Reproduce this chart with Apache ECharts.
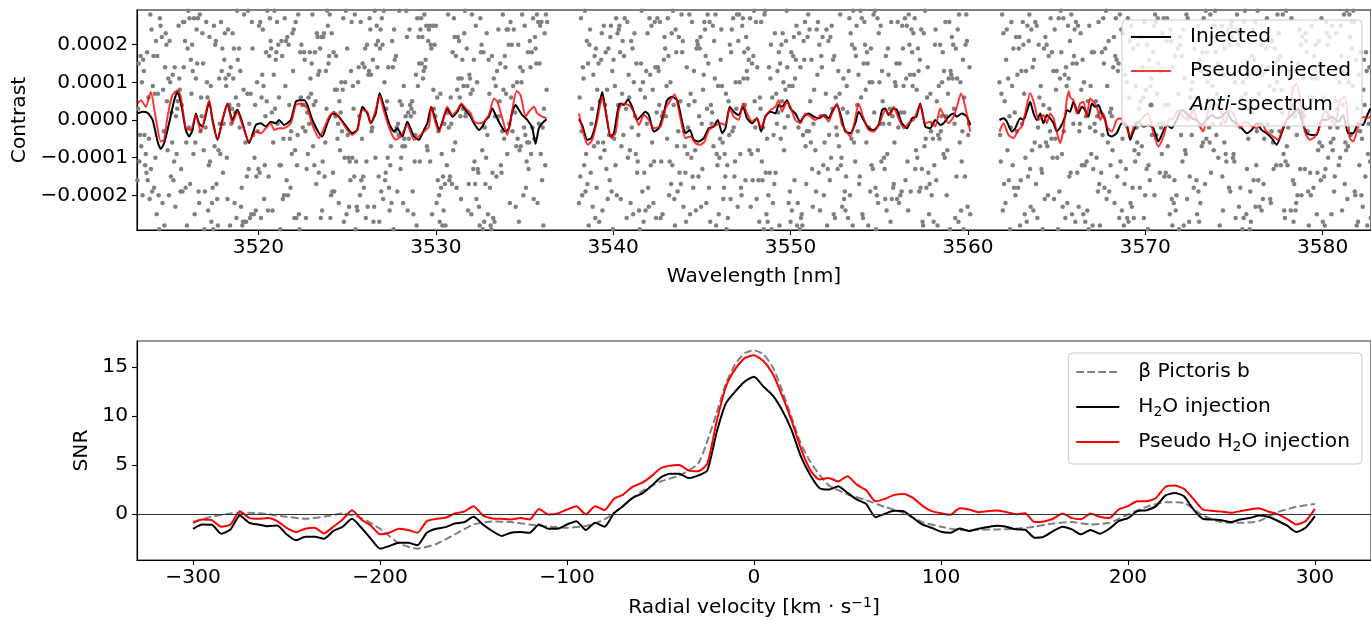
<!DOCTYPE html>
<html><head><meta charset="utf-8">
<script src="https://cdn.jsdelivr.net/npm/echarts@6.0.0/dist/echarts.min.js"></script>
<style>html,body{margin:0;padding:0;background:#fff}#c{width:1371px;height:621px}</style>
</head><body><div id="c"></div>
<script>
// ---------- Top panel: contrast (units of 1e-5) ----------
const contrastUnit = 1e-5;
const wavelengthTicks = [3520, 3530, 3540, 3550, 3560, 3570, 3580];
const contrastTicks = [-0.0002, -0.0001, 0, 0.0001, 0.0002];

const injectedSeg1 = [[3513.18,1.75],[3513.46,2.19],[3513.74,1.93],[3514.03,0],[3514.31,-5.7],[3514.49,-7.72],[3514.68,-6.14],[3514.96,-0.88],[3515.25,5.26],[3515.43,7.46],[3515.62,4.82],[3515.9,-2.63],[3516.09,-4.39],[3516.28,-2.63],[3516.47,1.75],[3516.65,-0.88],[3516.84,-1.75],[3517.22,4.82],[3517.41,0],[3517.69,-5.26],[3517.97,0],[3518.25,4.39],[3518.53,0],[3518.81,2.81],[3519.1,-0.88],[3519.47,-6.14],[3519.85,-1.32],[3520.13,-0.88],[3520.41,-1.75],[3520.69,-0.44],[3520.97,-0.88],[3521.16,0],[3521.44,-1.32],[3521.82,0],[3522.1,4.82],[3522.29,5.26],[3522.57,5.26],[3522.76,3.95],[3523.04,0],[3523.41,-3.51],[3523.6,-4.39],[3523.88,-0.88],[3524.17,1.75],[3524.45,1.32],[3524.82,-0.88],[3525.29,-3.51],[3525.57,-2.63],[3525.86,3.51],[3526.14,1.75],[3526.33,-0.88],[3526.61,1.75],[3526.83,7.19],[3527.08,3.51],[3527.36,-0.88],[3527.64,-3.07],[3527.83,-2.19],[3528.11,-4.39],[3528.39,-0.44],[3528.77,-4.39],[3529.05,-5.26],[3529.33,-2.63],[3529.52,-0.88],[3529.74,3.51],[3529.99,0],[3530.18,-2.63],[3530.46,0.88],[3530.64,3.07],[3530.93,0.88],[3531.21,2.19],[3531.44,4.12],[3531.68,2.63],[3531.96,0.88],[3532.15,-0.88],[3532.43,-2.63],[3532.62,-1.75],[3532.81,0],[3532.99,0.88],[3533.18,3.07],[3533.37,1.32],[3533.65,-1.32],[3533.93,-3.07],[3534.12,-2.19],[3534.31,2.19],[3534.5,3.95],[3534.69,2.63],[3534.87,1.32],[3535.16,0],[3535.44,-2.19],[3535.62,-6.33],[3535.81,-2.19],[3536.0,-0.88],[3536.24,0.18]];
const injectedSeg2 = [[3538.07,0.18],[3538.25,-1.32],[3538.54,-5.26],[3538.76,-4.82],[3539.0,-1.32],[3539.19,3.51],[3539.38,7.46],[3539.57,2.63],[3539.85,-4.39],[3540.04,-3.51],[3540.26,2.63],[3540.41,4.39],[3540.6,3.95],[3540.83,5.44],[3541.07,3.51],[3541.35,0],[3541.54,0.88],[3541.82,2.19],[3542.01,1.32],[3542.29,-3.07],[3542.57,-2.19],[3542.85,1.75],[3543.04,5.26],[3543.32,6.14],[3543.61,5.26],[3543.89,-0.44],[3544.08,-3.51],[3544.32,-2.63],[3544.55,-5.26],[3544.83,-5.7],[3545.11,-4.82],[3545.39,-2.19],[3545.67,-1.75],[3545.9,0],[3546.14,-3.51],[3546.33,-2.19],[3546.57,3.51],[3546.8,2.19],[3547.08,1.32],[3547.32,3.51],[3547.55,0.44],[3547.83,-0.88],[3548.11,0.44],[3548.34,-3.07],[3548.58,0.88],[3548.86,2.19],[3549.15,1.75],[3549.33,3.95],[3549.52,3.51],[3549.8,5.26],[3549.99,3.07],[3550.27,1.75],[3550.55,-0.44],[3550.74,0.88],[3551.02,1.75],[3551.31,0.88],[3551.59,0.44],[3551.87,1.32],[3552.15,0.44],[3552.34,2.19],[3552.62,3.95],[3552.9,0],[3553.09,-3.07],[3553.37,-3.51],[3553.65,-0.88],[3553.84,2.19],[3554.12,0],[3554.4,-2.19],[3554.69,-2.63],[3554.97,-1.32],[3555.16,2.63],[3555.34,3.07],[3555.53,1.32],[3555.81,3.07],[3556.0,2.63],[3556.28,-0.88],[3556.56,-2.19],[3556.85,0.44],[3557.09,0.88],[3557.31,4.39],[3557.6,-1.75],[3557.88,-2.19],[3558.16,0],[3558.44,-1.32],[3558.63,-0.88],[3558.91,0.88],[3559.19,1.75],[3559.38,0.88],[3559.66,1.75],[3559.94,0.88],[3560.13,-1.32]];
const injectedSeg3 = [[3561.78,0],[3562.01,0.44],[3562.2,-0.44],[3562.48,-3.07],[3562.67,-2.19],[3562.95,0.44],[3563.14,0],[3563.32,2.19],[3563.51,4.82],[3563.7,1.75],[3563.89,0],[3564.08,1.75],[3564.26,-0.88],[3564.45,1.32],[3564.64,0.44],[3564.83,-0.88],[3565.01,-3.07],[3565.24,-1.75],[3565.48,0.88],[3565.58,2.63],[3565.76,2.19],[3565.95,4.82],[3566.23,1.75],[3566.42,3.51],[3566.61,2.63],[3566.8,0.88],[3566.99,4.39],[3567.17,3.51],[3567.36,3.95],[3567.55,1.75],[3567.74,0],[3567.92,-3.95],[3568.11,-4.39],[3568.39,-3.51],[3568.68,-0.88],[3568.96,-1.32],[3569.15,-5.26],[3569.33,-3.07],[3569.61,-0.44],[3569.9,-1.75],[3570.18,-1.32],[3570.46,-2.19],[3570.74,-5.7],[3570.93,-3.95],[3571.21,-1.32],[3571.49,-2.19],[3571.77,0],[3572.06,2.63],[3572.34,1.75],[3572.62,0.44],[3572.9,0],[3573.18,-1.32],[3573.46,0],[3573.75,1.32],[3574.03,0.44],[3574.31,0.88],[3574.59,2.19],[3574.87,0],[3575.15,-0.88],[3575.44,-2.19],[3575.72,-3.51],[3576.0,-2.63],[3576.28,-0.88],[3576.56,-2.63],[3576.84,-3.51],[3577.13,-4.82],[3577.41,-6.58],[3577.69,-3.51],[3577.97,0],[3578.35,1.75],[3578.63,3.07],[3578.82,0],[3579.1,-3.51],[3579.38,-3.95],[3579.66,-3.95],[3579.94,0],[3580.22,0],[3580.51,0.88],[3580.88,-0.44],[3581.16,1.32],[3581.45,-3.51],[3581.73,-3.51],[3582.01,-0.88],[3582.29,-1.32],[3582.48,0.88],[3582.7,3.07]];

const pseudoSeg1 = [[3513.18,4.39],[3513.37,5.26],[3513.65,3.51],[3513.93,7.46],[3514.21,0.44],[3514.49,-5.7],[3514.68,-5.26],[3514.87,0.88],[3515.15,6.58],[3515.43,7.89],[3515.62,6.14],[3515.9,-2.19],[3516.18,-2.63],[3516.47,1.32],[3516.75,-3.07],[3517.22,5.26],[3517.41,-0.44],[3517.69,-5.26],[3517.97,0],[3518.25,4.39],[3518.53,-0.88],[3518.81,2.19],[3519.1,-1.32],[3519.47,-5.7],[3519.85,-3.07],[3520.13,-3.51],[3520.41,-2.19],[3520.69,-0.88],[3520.88,-2.63],[3521.16,-2.19],[3521.44,-2.19],[3521.82,-0.88],[3522.1,3.95],[3522.38,4.39],[3522.57,3.95],[3522.76,3.07],[3523.04,-1.32],[3523.41,-4.82],[3523.7,-2.19],[3523.98,0.88],[3524.26,2.19],[3524.64,0],[3525.01,-2.63],[3525.29,-3.95],[3525.57,-2.63],[3525.86,2.63],[3526.14,2.19],[3526.33,-0.88],[3526.61,2.63],[3526.83,6.58],[3527.08,2.19],[3527.45,-3.07],[3527.74,-5.26],[3528.02,-4.39],[3528.39,-1.32],[3528.77,-5.26],[3529.05,-4.39],[3529.33,-3.07],[3529.61,-1.75],[3529.74,3.51],[3529.99,-0.88],[3530.18,-3.07],[3530.46,0.88],[3530.64,3.51],[3530.93,1.32],[3531.21,2.63],[3531.44,4.39],[3531.68,3.07],[3531.96,1.75],[3532.15,-0.44],[3532.43,-0.88],[3532.71,-0.44],[3532.99,1.32],[3533.28,5.7],[3533.47,4.82],[3533.75,0.44],[3534.03,-3.95],[3534.31,2.63],[3534.55,7.72],[3534.78,6.58],[3535.06,0.88],[3535.25,2.19],[3535.53,3.51],[3535.72,1.75],[3536.0,0.88],[3536.24,0.44]];
const pseudoSeg2 = [[3538.07,1.75],[3538.35,-3.95],[3538.57,-6.58],[3538.82,-5.26],[3539.1,0],[3539.38,6.14],[3539.66,0],[3539.89,-4.82],[3540.13,-3.51],[3540.32,2.63],[3540.51,4.39],[3540.88,3.95],[3541.16,2.19],[3541.45,-1.32],[3541.73,1.32],[3542.01,0],[3542.29,-2.19],[3542.67,-1.75],[3542.95,3.07],[3543.23,5.26],[3543.47,6.84],[3543.7,2.63],[3543.89,-1.75],[3544.08,-4.82],[3544.36,-4.39],[3544.64,-6.14],[3544.92,-6.58],[3545.15,-5.7],[3545.39,-2.63],[3545.67,-1.75],[3546.05,-0.88],[3546.33,-1.32],[3546.57,3.07],[3546.8,0.88],[3547.08,0],[3547.32,4.39],[3547.55,1.75],[3547.83,-0.44],[3548.11,0.44],[3548.34,-2.19],[3548.58,0.88],[3548.86,2.63],[3549.15,3.51],[3549.33,5.26],[3549.52,2.19],[3549.8,4.82],[3549.99,3.51],[3550.27,0],[3550.55,-0.88],[3550.84,1.75],[3551.12,0.88],[3551.4,0],[3551.68,0.88],[3551.87,1.32],[3552.15,-0.44],[3552.34,1.75],[3552.62,4.39],[3552.9,-1.32],[3553.09,-2.63],[3553.37,-4.39],[3553.56,-1.75],[3553.84,4.39],[3554.12,0.44],[3554.4,-2.63],[3554.69,-3.07],[3554.97,-1.32],[3555.16,0.88],[3555.34,2.63],[3555.62,1.32],[3555.81,3.51],[3556.09,0.44],[3556.38,-2.19],[3556.66,-0.88],[3556.94,0],[3557.31,3.95],[3557.6,-0.88],[3557.88,-0.44],[3558.16,-1.75],[3558.44,3.07],[3558.63,1.32],[3558.91,-0.88],[3559.19,0.88],[3559.38,3.51],[3559.61,7.02],[3559.85,3.51],[3560.13,-3.07]];
const pseudoSeg3 = [[3561.78,-3.07],[3562.01,-0.88],[3562.29,-3.95],[3562.57,-4.82],[3562.85,-2.63],[3563.04,-1.75],[3563.23,1.75],[3563.51,7.19],[3563.74,4.39],[3563.98,0],[3564.26,1.32],[3564.45,-0.88],[3564.64,1.75],[3564.83,0.44],[3565.01,-3.07],[3565.2,-6.14],[3565.39,-2.5],[3565.58,5.5],[3565.7,7.6],[3565.76,6.14],[3565.95,5.26],[3566.14,1.75],[3566.33,4.39],[3566.52,4.82],[3566.7,0.88],[3566.89,5.7],[3567.08,4.82],[3567.27,3.51],[3567.46,0],[3567.64,1.75],[3567.83,-1.75],[3568.11,-3.07],[3568.39,0],[3568.58,0.44],[3568.86,-0.88],[3569.15,-4.39],[3569.43,-0.88],[3569.67,-0.44],[3569.9,0.88],[3570.18,1.75],[3570.46,-3.51],[3570.74,-7.02],[3571.02,-4.39],[3571.31,0],[3571.59,0.44],[3571.87,2.63],[3572.15,0.88],[3572.43,0],[3572.71,2.63],[3572.99,-0.88],[3573.28,-3.07],[3573.46,0.88],[3573.65,3.51],[3573.93,4.39],[3574.22,2.63],[3574.5,-0.88],[3574.78,2.63],[3575.06,0.88],[3575.34,-2.19],[3575.62,-0.44],[3575.91,-1.32],[3576.28,-2.19],[3576.56,-0.88],[3576.84,-3.07],[3577.22,-4.39],[3577.5,-5.26],[3577.78,-1.75],[3578.06,0.88],[3578.35,8.77],[3578.53,9.65],[3578.72,6.14],[3579.0,-3.07],[3579.29,-5.26],[3579.57,-4.39],[3579.85,-1.75],[3580.13,2.63],[3580.41,0.88],[3580.69,-1.32],[3580.98,5.26],[3581.26,6.14],[3581.54,-4.82],[3581.73,-5.7],[3582.01,-1.75],[3582.29,0.88],[3582.48,0.44],[3582.7,0.88]];

// Anti-spectrum samples (units of 1e-5), each segment sampled evenly across its wavelength range
const antiRange1 = [3513.10, 3536.28];
const antiRange2 = [3538.07, 3560.13];
const antiRange3 = [3561.78, 3582.75];
const anti1 = [12,-27,-16,3,15,-11,-4,17,-7,10,-20,16,13,-4,-12,-9,-14,18,-16,6,-5,-21,28,-13,24,-19,9,17,-18,7,-10,21,
-25,17,7,-20,-29,27,25,-30,22,-22,8,-3,-28,14,23,20,5,-8,11,-20,21,10,-15,2,-6,12,-16,-11,14,-23,1,-9,
3,5,25,11,8,-19,-13,4,-19,26,14,26,21,-18,-6,-28,19,29,-2,27,-17,16,7,20,13,-9,27,-25,-6,11,24,15,
27,-19,-22,28,-3,6,1,23,15,-8,-29,-19,-2,26,10,6,-24,-12,22,-11,9,-27,-22,-18,-29,25,-7,20,21,-17,-21,-28,
-8,11,-1,-9,26,13,19,-14,-1,16,23,11,9,-10,-21,24,12,4,-28,14,-1,3,23,11,19,-22,2,6,-26,29,16,4,
19,-2,13,-23,-18,-28,-27,8,28,-27,-6,-27,-15,7,29,-13,-1,-26,7,-25,26,19,-4,-25,-10,4,-24,-15,10,-3,-13,25,
-14,26,-26,6,12,24,9,-21,-12,1,18,5,29,-24,-15,17,27,21,19,2,-24,-6,12,29,3,16,18,26,-1,20,6,-12,
-29,-12,21,17,-21,-5,-20,27,9,21,-16,22,-20,20,4,-5,-18,-3,-9,23,13,24,-26,-8,26,-26,-12,-4,28,-25,-29,18,
6,20,4,-2,4,18,16,-3,-26,-13,2,-9,6,-1,18,11,7,15,28,-7,4,-12,18,5,-17,23,22,12,-14,13,19,-26,
22,-24,-11,22,23,-15,-6,13,3,29,25,15,17,28,-26,-20,23,-19,-14,18,-19,8,1,17,8,-5,-1,-22,5,-8,2,10,
-3,8,27,-27,-10,10,29,-25,19,-4,-10,-23,-11,-16,13,26,-10,9,3,-15,28,-29,-11,-23,-24,10,14,1,-20,26,-16,-5,
15,-15,-18,14,19,-26,-11,20,-23,12,13,27,24,12,-3,-2,16,-27,-23,29,-10,20,25,14,21,-15,-27,19,24,-19,27,20,
-21,29,10,-16,-14,3,5,-10,14,-18,-24,-12,-7,-22,21,14,-29,24,16,-3,17,-2,-19,-1,-4,29,5,-13,-10,4,-7,-22,
9,-5,-7,1,29,22,-24,2,-5,24,4,1,3,5,-19,-25,2,-11,-4,12,-28,27,9,22,15,-11,24,27,15,22,11,13,
28,14,16,25,-7,-8,21,24,25,-11,20,19,-25,25,8,3,20,1,25,-22,6,-16,-3,-20,-27,7,-18,-9,-28,-15,-24,-1,
-17,-28,-30,-12,2,28,-2,-16,-15,6,-1,-17,18,-8,27,22,-6,17,-18,8,22,11,21,6,1,-21,11,16,3,9,23,29,
1,2,19,9,-24,-17,12,11,7,-25,28,8,-13,16,-11,-17,25,-21,10,-13,-14,-23,-28,27,18,20,-8,-29,18,-27,-2,-17,
-10,23,-4,-25,16,7,-18,-28,-29,17,-14,-26,11,-27,1,9,-15,13,-30,24,1,5,15,-12,-14,-3,28,8,-5,17,14,7,
24,-9,24,20,-1,-22,26,6,20,-3,9,24,-30,2,-23,-7,10,-5,20,-27,-8,14,-7,10,28,13,-20,-2,25,-4,-18,-11,
-6,18,-13,-6,21,14,-9,18,-2,27,-21,-5,22,19,15,28,-22,26,-1,15,25,-9,26,-16,-2,-28,3,23,-12,28,8,26];
const anti2 = [-22,6,-15,27,-3,-20,14,11,-12,29,-19,-9,21,-17,15,-28,20,24,-14,-1,3,-23,12,-7,17,-26,19,-18,8,-6,
15,-27,5,-10,16,23,-24,-6,25,-8,4,18,-13,8,-21,19,-4,-16,22,25,-19,13,-29,16,-5,9,-12,27,-20,23,
4,24,25,18,-21,-7,7,21,-4,17,27,-30,3,-26,26,-10,12,6,-8,-22,21,-2,19,-25,10,23,1,-9,15,-14,
-11,-4,-24,-29,8,15,29,-19,10,-27,-14,6,-24,13,-1,23,-18,-23,27,12,-12,25,-6,8,-22,-11,26,14,-26,2,
27,14,13,4,26,-26,-11,1,-25,2,16,22,19,1,9,-5,27,17,-20,-11,10,-17,23,-12,29,4,-21,-28,24,18,
-7,-19,-3,22,-14,5,-17,28,18,21,-23,-3,-7,-14,-27,14,-9,-2,4,28,-25,7,-10,26,-15,-18,13,5,-8,-24,
19,21,20,-15,1,19,22,-23,-1,-13,8,12,26,24,17,-22,3,28,15,-18,26,-27,4,-1,2,25,-7,21,11,28,
-28,-9,-12,9,-25,-10,-5,16,24,9,-6,-21,-18,-9,-15,7,-29,-12,-26,5,-4,20,-21,18,24,-3,27,-2,-15,-11,
10,3,28,-23,21,28,10,-9,-18,-20,25,27,11,18,4,-16,22,13,11,19,16,-8,27,-23,-9,15,-16,17,29,5,
-2,26,-21,14,-8,-16,-27,6,3,26,-11,-16,-2,-29,28,29,-14,-25,-5,-27,-20,14,-14,11,20,-29,6,-22,-4,-17,
23,-14,7,-1,13,2,18,-28,15,-5,20,5,23,10,-8,-2,8,21,29,14,1,-22,9,-19,-27,18,-24,9,17,22,
-16,11,16,25,-28,-22,-2,23,-29,14,-26,-25,-28,-4,21,16,26,-7,-17,-3,22,28,-3,24,5,-6,16,-13,-23,-1,
8,-30,-8,-19,24,12,26,-14,20,-24,1,17,14,22,-12,-20,-6,1,7,24,-28,-13,21,-4,-16,22,-10,25,3,16,
-25,17,-26,6,-2,-4,-13,13,-7,7,28,-12,-10,-23,3,11,-21,-19,-24,-15,9,2,-26,13,27,-20,23,-5,20,-28,
29,-6,19,-11,17,25,4,-3,12,-17,-15,29,6,27,-25,-26,15,26,20,8,-6,18,15,-28,-2,10,-19,19,-12,10,
-13,28,2,29,-18,-29,-20,27,-22,23,10,-1,25,-11,13,5,-1,-10,-13,-21,17,-24,-9,19,12,-1,3,-27,26,-21,
1,-18,-17,-6,10,9,15,-21,26,-2,-22,15,-20,2,-19,25,19,9,2,27,-16,11,25,-11,-24,28,20,12,-19,24,
18,9,23,12,27,-13,-8,8,-10,19,13,-19,16,-18,24,-13,-27,-28,23,-7,29,-5,-18,6,14,-14,-25,-17,7,-3,
-20,-1,-5,-27,-12,20,24,-16,5,-28,-4,9,-5,20,-3,1,10,18,-9,13,-10,26,1,-20,-8,7,11,26,-29,13,
12,22,11,20,3,-1,-26,19,-15,11,24,-27,28,-6,10,-24,-11,-3,16,-29,6,-15,20,28,21,-23,-4,-1,14,-25];
const anti3 = [10,-4,-11,7,28,-24,23,-17,5,-22,16,24,-8,11,-16,1,-29,-2,26,9,-12,19,-18,2,-20,22,-3,12,
-18,19,22,-28,-16,13,-1,26,20,7,-25,-10,13,-27,25,-15,21,28,-13,-23,24,-8,14,-24,16,-6,26,-17,
25,-26,-2,20,6,-7,9,-13,-14,-29,4,19,-21,22,-6,20,-7,-20,17,3,-3,27,-5,18,-10,13,-21,24,
-5,8,13,-10,-29,27,-19,11,29,18,-9,-23,27,-3,12,-26,14,9,-22,25,11,-15,21,-14,28,-25,15,-1,
17,24,-27,26,15,-14,25,-23,-3,-1,23,8,-12,16,-25,10,-12,-27,1,-11,-24,5,-29,25,-2,9,-9,18,
-28,-13,18,-1,-3,5,-10,1,-19,26,-17,-28,2,-14,18,-4,27,15,-18,19,29,-21,9,-6,21,-19,2,-12,
3,1,-8,14,22,-22,17,27,16,-15,13,15,-26,28,-11,24,-24,-5,23,-28,-17,12,-13,10,-26,27,-27,6,
21,-22,25,-23,-18,19,-26,-8,-11,9,-2,-6,20,-9,3,-18,5,22,-7,14,6,-26,26,-20,8,-13,20,-29,
-12,16,-16,9,11,-4,4,18,25,-20,28,26,-4,7,27,15,-1,-14,13,-2,-9,23,-1,27,-15,4,-14,21,
27,-7,4,-15,-25,24,21,-21,-28,14,-22,-16,17,-24,-20,-30,19,7,-29,22,20,-4,17,-11,24,-28,11,-8,
-9,28,-21,27,1,-27,-15,6,8,-4,10,3,-18,19,14,6,-16,-25,25,-19,-27,16,-22,13,-7,18,-6,27,
14,-17,29,-5,18,10,12,-2,-6,28,-14,22,9,-1,-8,25,29,18,-4,7,15,-10,3,-28,12,-1,25,-15,
-24,12,-6,19,-9,-11,-30,24,23,-18,20,-19,25,26,22,-10,-9,-11,10,-26,-1,28,24,20,-23,23,-18,3,
6,-29,10,-26,26,29,7,-25,-13,3,-5,12,-29,-19,-27,17,2,24,-16,16,26,-23,-12,-3,29,-16,7,-23,
-1,20,-24,12,-21,-17,-5,13,19,21,27,-1,14,5,9,-21,-22,-3,21,-6,-13,8,19,15,-12,10,28,16,
23,-3,17,-12,8,2,28,-9,-24,-26,-11,29,-7,-12,-2,11,13,12,-24,27,4,-16,-27,-17,1,-24,-22,-4,
-20,15,2,24,-13,20,-20,22,2,11,1,-13,23,21,18,-3,-19,-28,6,-14,-20,25,11,6,-18,17,14,20,
11,-25,-14,-8,21,-6,15,-16,27,-7,-27,6,-15,-28,-13,26,23,20,-10,1,22,-2,-6,-25,25,-8,-5,-19,
-15,5,23,3,-2,14,-12,10,-10,25,17,-24,4,13,28,-17,-6,-8,29,-21,-7,10,28,22,-4,26,19,9,
29,26,-19,-20,16,-28,3,-27,12,-12,-3,18,-20,-5,-23,8,16,4,-15,18,13,-28,-9,-1,14,-11,-26,25];

// ---------- Bottom panel: SNR vs radial velocity ----------
const rvTicks = [-300, -200, -100, 0, 100, 200, 300];
const snrTicks = [0, 5, 10, 15];
const rv = [-300,-295,-290,-285,-280,-275,-270,-265,-260,-255,-250,-245,-240,-235,-230,-225,-220,-215,-210,-205,-200,-195,-190,-185,-180,-175,-170,-165,-160,-155,-150,-145,-140,-135,-130,-125,-120,-115,-110,-105,-100,-95,-90,-85,-80,-75,-70,-65,-60,-55,-50,-45,-40,-35,-30,-25,-20,-15,-10,-5,0,5,10,15,20,25,30,35,40,45,50,55,60,65,70,75,80,85,90,95,100,105,110,115,120,125,130,135,140,145,150,155,160,165,170,175,180,185,190,195,200,205,210,215,220,225,230,235,240,245,250,255,260,265,270,275,280,285,290,295,300];
const snrInjection = [-1.53,-1.09,-1.12,-2.04,-1.6,-0.17,-0.92,-1.09,-1.26,-1.19,-2.1,-2.71,-2.34,-2.34,-2.54,-1.76,-1.32,-0.51,-1.43,-2.54,-3.56,-3.29,-2.95,-2.95,-3.22,-1.93,-1.53,-1.36,-0.99,-0.85,-0.31,-1.09,-1.76,-2.27,-1.93,-1.87,-1.93,-1.09,-1.53,-1.53,-1.09,-0.75,-1.66,-0.92,-1.32,0.03,0.78,1.62,2.06,2.81,3.7,4.1,4.1,3.65,3.9,4.4,8.3,11.3,12.5,13.5,14.0,13.0,12.1,10.6,8.6,5.9,4.0,2.64,2.47,2.81,2.13,1.46,1.0,-0.35,0.0,0.3,0.27,-0.41,-1.09,-1.43,-1.83,-1.93,-1.49,-1.76,-1.53,-1.36,-1.22,-1.32,-1.59,-1.63,-2.44,-2.34,-1.76,-1.32,-1.59,-2.1,-1.66,-2.03,-1.53,-0.75,-0.44,0.27,0.37,0.78,1.86,2.13,1.79,0.44,-0.51,-0.58,-0.65,-0.85,-0.58,-0.44,-0.17,-0.31,-0.71,-1.19,-1.86,-1.43,-0.24];
const snrPseudo = [-0.92,-0.58,-0.65,-1.32,-1.09,0.27,-0.41,-0.51,-0.44,-0.75,-1.43,-1.86,-1.52,-1.43,-2.0,-1.32,-0.58,0.37,-0.58,-1.19,-2.1,-1.93,-1.52,-1.66,-1.93,-0.75,-0.51,-0.41,0.03,0.23,0.78,-0.17,-0.48,-0.51,-0.58,-0.44,-0.58,0.5,-0.07,0.03,0.44,0.78,-0.07,0.78,0.37,1.52,1.96,2.74,3.15,3.82,4.64,4.9,4.98,4.44,4.34,5.1,9.4,13.0,14.8,15.9,16.2,15.6,14.3,12.1,9.6,6.7,4.5,3.5,3.66,3.3,3.83,2.98,2.4,1.28,1.52,1.93,2.03,1.62,0.84,0.27,0.06,-0.1,0.57,0.44,0.17,0.27,0.34,0.17,-0.04,0.06,-0.85,-0.78,-0.51,0.03,-0.44,-0.55,0.03,-0.31,-0.44,0.44,0.78,1.28,1.28,1.62,2.74,2.88,2.54,1.52,0.44,0.3,0.23,0.1,0.27,0.44,0.57,0.23,-0.04,-0.51,-1.09,-0.75,0.5];
const rvBeta = [-300,-290,-280,-270,-260,-250,-240,-230,-220,-210,-200,-190,-180,-170,-160,-150,-140,-130,-120,-110,-100,-90,-80,-70,-60,-50,-40,-30,-25,-20,-15,-10,-5,0,5,10,15,20,25,30,35,40,50,60,70,80,90,100,110,120,130,140,150,160,170,180,190,200,210,220,230,240,250,260,270,280,290,300];
const snrBeta = [-0.8,-0.3,0.03,0.1,-0.04,-0.31,-0.51,-0.31,0.03,-0.44,-1.53,-3.0,-3.56,-3.08,-2.1,-1.09,-0.78,-0.85,-1.09,-1.32,-1.42,-1.25,-0.58,0.84,2.3,3.3,3.9,5.1,7.4,10.3,13.3,15.3,16.4,16.7,16.3,15.0,12.6,9.9,7.2,5.35,4.0,2.9,2.0,1.4,0.7,0.1,-0.85,-1.32,-1.66,-1.63,-1.6,-1.53,-1.32,-0.99,-0.85,-1.09,-0.92,-0.07,0.71,1.18,1.11,-0.17,-0.85,-0.92,-0.75,0.17,0.71,1.01];

// ---------- build ----------
const FONT = 'DejaVu Sans';
const FS = 20.2;
const minus = s => String(s).replace('-', '\u2212');
const toContrast = seg => seg.map(p => [p[0], p[1] * contrastUnit]);
const antiPoints = (vals, range) => vals.map((v, i) => [range[0] + (range[1] - range[0]) * i / (vals.length - 1), v * contrastUnit]);
const zip = (xs, ys) => xs.map((x, i) => [x, ys[i]]);
const antiData = antiPoints(anti1, antiRange1).concat(antiPoints(anti2, antiRange2), antiPoints(anti3, antiRange3));

const subStyle = { fontSize: 14, fontFamily: FONT, color: '#000', verticalAlign: 'bottom', lineHeight: 14 };
const supStyle = { fontSize: 14, fontFamily: FONT, color: '#000', verticalAlign: 'top', lineHeight: 14 };

const axisCommon = {
  splitLine: { show: false },
  axisLine: { show: true, onZero: false, lineStyle: { color: '#000', width: 1.1 } },
  nameLocation: 'middle'
};
function xAxis(grid, min, max, ticks, name, gap) {
  return Object.assign({}, axisCommon, {
    type: 'value', gridIndex: grid, min, max, name, nameGap: gap,
    nameTextStyle: { fontSize: FS, color: '#000', fontFamily: FONT, lineHeight: 24, rich: { sup: supStyle } },
    axisTick: { show: true, length: 5, lineStyle: { color: '#000', width: 1.1 }, customValues: ticks },
    axisLabel: { fontSize: FS, color: '#000', fontFamily: FONT, margin: 8, customValues: ticks, formatter: v => minus(v) }
  });
}
function yAxis(grid, min, max, ticks, name, gap, fmt) {
  return Object.assign({}, axisCommon, {
    type: 'value', gridIndex: grid, min, max, name, nameGap: gap,
    nameTextStyle: { fontSize: FS, color: '#000', fontFamily: FONT },
    axisTick: { show: true, length: 5, lineStyle: { color: '#000', width: 1.1 }, customValues: ticks },
    axisLabel: { fontSize: FS, color: '#000', fontFamily: FONT, margin: 9, customValues: ticks, formatter: fmt }
  });
}

const lineSeries = (name, data, color, z, grid) => ({
  type: 'line', name, data, xAxisIndex: grid, yAxisIndex: grid, symbol: 'none', smooth: 0.2,
  lineStyle: { color, width: 2 }, itemStyle: { color }, z, silent: true, animation: false
});

const hiddenSymbol = { opacity: 0, color: 'rgba(0,0,0,0)', borderWidth: 0 };
const legendCommon = {
  orient: 'vertical', right: 9, itemWidth: 40, itemHeight: 5, itemGap: 10, selectedMode: false,
  backgroundColor: 'rgba(255,255,255,0.8)', borderColor: '#cccccc', borderWidth: 1, borderRadius: 4,
  textStyle: { fontSize: FS, color: '#000', fontFamily: FONT, lineHeight: 24, padding: [0, 0, 0, 14],
    rich: { i: { fontStyle: 'italic', fontSize: FS, color: '#000', fontFamily: FONT, lineHeight: 24 }, sub: subStyle } }
};

const option = {
  animation: false,
  textStyle: { fontFamily: FONT },
  grid: [
    { left: 137, top: 10, width: 1235, height: 220, show: true, borderColor: '#000', borderWidth: 1.1, backgroundColor: '#fff' },
    { left: 137, top: 341, width: 1235, height: 220, show: true, borderColor: '#333', borderWidth: 1.1, backgroundColor: '#fff' }
  ],
  xAxis: [
    xAxis(0, 3513.15, 3582.73, wavelengthTicks, 'Wavelength [nm]', 35),
    xAxis(1, -330, 330, rvTicks, 'Radial velocity [km \u00b7 s{sup|\u22121}]', 36)
  ],
  yAxis: [
    yAxis(0, -0.000292, 0.000292, contrastTicks, 'Contrast', 107, v => minus(v.toFixed(4))),
    yAxis(1, -4.72, 17.65, snrTicks, 'SNR', 42, v => minus(v))
  ],
  legend: [
    Object.assign({}, legendCommon, {
      top: 20, padding: [5, 11, 9, 8],
      data: [
        { name: 'Injected', itemStyle: hiddenSymbol },
        { name: 'Pseudo-injected', itemStyle: hiddenSymbol },
        { name: 'Anti-spectrum' }
      ],
      formatter: n => n === 'Anti-spectrum' ? '{i|Anti}-spectrum' : n
    }),
    Object.assign({}, legendCommon, {
      top: 353, padding: [7, 12, 10, 7], itemGap: 11, itemWidth: 43,
      data: [
        { name: '\u03b2 Pictoris b', itemStyle: hiddenSymbol },
        { name: 'H\u2082O injection', itemStyle: hiddenSymbol },
        { name: 'Pseudo H\u2082O injection', itemStyle: hiddenSymbol }
      ],
      formatter: n => n.replace('\u2082', '{sub|2}')
    })
  ],
  series: [
    { type: 'scatter', name: 'Anti-spectrum', data: antiData, xAxisIndex: 0, yAxisIndex: 0, symbolSize: 4.5,
      itemStyle: { color: '#808080', opacity: 1 }, z: 1, silent: true, animation: false },
    lineSeries('Injected', toContrast(injectedSeg1), '#000000', 2, 0),
    lineSeries('Injected', toContrast(injectedSeg2), '#000000', 2, 0),
    lineSeries('Injected', toContrast(injectedSeg3), '#000000', 2, 0),
    lineSeries('Pseudo-injected', toContrast(pseudoSeg1), 'rgba(255,0,0,0.8)', 3, 0),
    lineSeries('Pseudo-injected', toContrast(pseudoSeg2), 'rgba(255,0,0,0.8)', 3, 0),
    lineSeries('Pseudo-injected', toContrast(pseudoSeg3), 'rgba(255,0,0,0.8)', 3, 0),
    Object.assign(lineSeries('\u03b2 Pictoris b', zip(rvBeta, snrBeta), '#808080', 2, 1),
      { lineStyle: { color: '#808080', width: 2, type: [7.7, 3.3] } }),
    Object.assign(lineSeries('H\u2082O injection', zip(rv, snrInjection), '#000000', 3, 1), {
      markLine: { silent: true, symbol: 'none', label: { show: false }, animation: false,
        lineStyle: { color: '#333', width: 1, type: 'solid' }, data: [{ yAxis: 0 }] }
    }),
    lineSeries('Pseudo H\u2082O injection', zip(rv, snrPseudo), '#ff0000', 4, 1)
  ]
};

const chart = echarts.init(document.getElementById('c'), null, { renderer: 'canvas' });
chart.setOption(option);
</script></body></html>
